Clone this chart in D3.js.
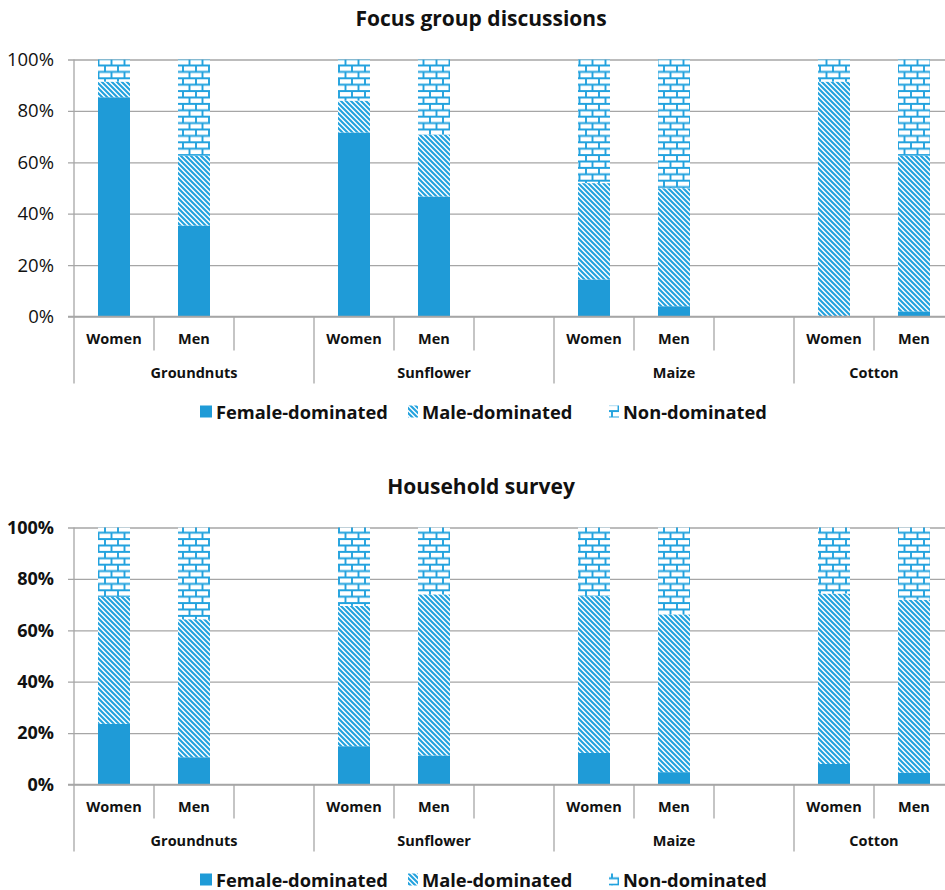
<!DOCTYPE html>
<html>
<head>
<meta charset="utf-8">
<script src="https://cdn.jsdelivr.net/npm/d3@7/dist/d3.min.js"></script>
<style>
  html, body { margin: 0; padding: 0; background: #fff; }
  svg { display: block; font-family: "Open Sans", "Liberation Sans", sans-serif; }
</style>
</head>
<body>
<svg id="chart" width="945" height="890"></svg>
<script>
// Crops and respondent groups shown on the two-level category axis
const crops = ["Groundnuts", "Sunflower", "Maize", "Cotton"];
const respondents = ["Women", "Men"];
const seriesKeys = ["Female-dominated", "Male-dominated", "Non-dominated"];
const yTickValues = [0, 20, 40, 60, 80, 100];

// Focus group discussions (% of activities), order: crop x respondent
const focusFemale = [85.3, 35.4, 71.6, 46.7, 14.4, 4.0, 0.0, 2.0];
const focusMale   = [6.1, 27.2, 12.4, 24.1, 37.5, 45.9, 91.4, 60.6];
const focusNon    = [8.6, 37.4, 16.0, 29.2, 48.1, 50.1, 8.6, 37.4];

// Household survey (% of activities), order: crop x respondent
const surveyFemale = [23.6, 10.6, 14.9, 11.3, 12.3, 4.8, 8.0, 4.6];
const surveyMale   = [49.4, 53.7, 54.6, 62.7, 61.0, 61.4, 66.3, 67.3];
const surveyNon    = [27.0, 35.7, 30.5, 26.0, 26.7, 33.8, 25.7, 28.1];

const blue = "#1f9bd7";
const patternBlue = "#22a2de";
const gridColor = "#a6a6a6";
const textColor = "#111";

const svg = d3.select("#chart");
const defs = svg.append("defs");

// Wide downward diagonal hatch
const diag = defs.append("pattern")
  .attr("id", "diag").attr("patternUnits", "userSpaceOnUse")
  .attr("width", 5).attr("height", 5);
diag.append("rect").attr("width", 5).attr("height", 5).attr("fill", "#fff");
diag.append("path")
  .attr("d", "M0,0 L5,5 M-1,4 L1,6 M4,-1 L6,1")
  .attr("stroke", patternBlue).attr("stroke-width", 2.1);

// Horizontal brick pattern
const bw = 13, bh = 6.4;
const brick = defs.append("pattern")
  .attr("id", "brick").attr("patternUnits", "userSpaceOnUse")
  .attr("width", bw).attr("height", bh * 2).attr("y", 0.5);
brick.append("rect").attr("width", bw).attr("height", bh * 2).attr("fill", "#fff");
brick.append("path")
  .attr("d", `M0,0.9 H${bw} M0,${bh + 0.9} H${bw} M1,0 V${bh} M${bw / 2 + 1},${bh} V${bh * 2}`)
  .attr("stroke", patternBlue).attr("stroke-width", 1.9).attr("fill", "none");

const fills = { "Female-dominated": blue, "Male-dominated": "url(#diag)", "Non-dominated": "url(#brick)" };

function buildRows(female, male, non) {
  const rows = [];
  crops.forEach((crop, ci) => {
    respondents.forEach((resp, ri) => {
      const i = ci * 2 + ri;
      rows.push({ slot: crop + "|" + resp, crop, resp,
        "Female-dominated": female[i], "Male-dominated": male[i], "Non-dominated": non[i] });
    });
  });
  return rows;
}

// One slot per respondent plus an empty spacer slot after each crop (last crop runs off the edge)
const slots = [];
crops.forEach((crop, ci) => {
  respondents.forEach(r => slots.push(crop + "|" + r));
  if (ci < crops.length - 1) slots.push(crop + "|");
});

const plotLeft = 74, plotRight = 954, plotHeight = 257;

function drawChart(top, title, rows, boldTicks) {
  const g = svg.append("g");
  const x = d3.scaleBand().domain(slots).range([plotLeft, plotRight])
    .paddingInner(0.6).paddingOuter(0.3);
  const step = x.step();
  const y = d3.scaleLinear().domain([0, 100]).range([top + plotHeight, top]);
  const base = y(0);

  g.append("text")
    .attr("x", 481).attr("y", top - 34)
    .attr("text-anchor", "middle")
    .attr("font-size", 21).attr("font-weight", 700).attr("fill", textColor)
    .text(title);

  // Gridlines with tick stubs and y labels
  const yAxis = d3.axisLeft(y).tickValues(yTickValues)
    .tickSize(-(945 - plotLeft + 10)).tickPadding(14)
    .tickFormat(d => d + "%");
  const ya = g.append("g").attr("transform", `translate(${plotLeft - 6},0)`).call(yAxis);
  ya.select(".domain").remove();
  ya.selectAll(".tick line").attr("stroke", gridColor).attr("stroke-width", 1.3);
  ya.selectAll(".tick text")
    .attr("font-size", boldTicks ? 18 : 18.5)
    .attr("font-weight", boldTicks ? 700 : 400)
    .attr("fill", textColor)
    .attr("font-family", "'Open Sans', sans-serif");

  // Left axis line
  g.append("line").attr("x1", plotLeft).attr("x2", plotLeft)
    .attr("y1", y(100)).attr("y2", base)
    .attr("stroke", gridColor).attr("stroke-width", 1.3);

  // Stacked bars
  const stack = d3.stack().keys(seriesKeys)(rows);
  stack.forEach(layer => {
    g.append("g").selectAll("rect").data(layer).join("rect")
      .attr("x", d => x(d.data.slot))
      .attr("width", x.bandwidth())
      .attr("y", d => y(d[1]))
      .attr("height", d => y(d[0]) - y(d[1]))
      .attr("fill", fills[layer.key]);
  });

  // Category axis: dividers and labels
  const ax = g.append("g");
  slots.forEach((s, i) => {
    const left = x(s) - step * x.paddingOuter();
    const groupStart = i === 0 || s.split("|")[0] !== slots[i - 1].split("|")[0];
    ax.append("line").attr("x1", left).attr("x2", left)
      .attr("y1", base).attr("y2", base + (groupStart ? 67 : 34))
      .attr("stroke", gridColor).attr("stroke-width", 1.3);
  });
  rows.forEach(r => {
    ax.append("text")
      .attr("x", x(r.slot) + x.bandwidth() / 2).attr("y", base + 27)
      .attr("text-anchor", "middle").attr("font-size", 14.5).attr("font-weight", 700)
      .attr("fill", textColor).text(r.resp);
  });
  crops.forEach(crop => {
    const first = x(crop + "|" + respondents[0]) - step * x.paddingOuter();
    const span = crop === crops[crops.length - 1] ? 2 : 3;
    ax.append("text")
      .attr("x", first + span * step / 2).attr("y", base + 61)
      .attr("text-anchor", "middle").attr("font-size", 14.5).attr("font-weight", 700)
      .attr("fill", textColor).text(crop);
  });
  // Baseline
  g.append("line").attr("x1", plotLeft - 6).attr("x2", 945)
    .attr("y1", base).attr("y2", base)
    .attr("stroke", gridColor).attr("stroke-width", 1.3);

  // Legend
  const ly = base + 95;
  const legendX = [200, 408, 609];
  const iconW = [12, 10, 10];
  const lg = g.append("g");
  seriesKeys.forEach((k, i) => {
    lg.append("rect").attr("x", legendX[i]).attr("y", ly - 6)
      .attr("width", iconW[i]).attr("height", 12).attr("fill", fills[k]);
    lg.append("text").attr("x", legendX[i] + iconW[i] + 4).attr("y", ly + 7)
      .attr("font-size", 18.3).attr("font-weight", 700).attr("fill", textColor).text(k);
  });
}

drawChart(59.5, "Focus group discussions", buildRows(focusFemale, focusMale, focusNon), false);
drawChart(527.5, "Household survey", buildRows(surveyFemale, surveyMale, surveyNon), true);
</script>
</body>
</html>
